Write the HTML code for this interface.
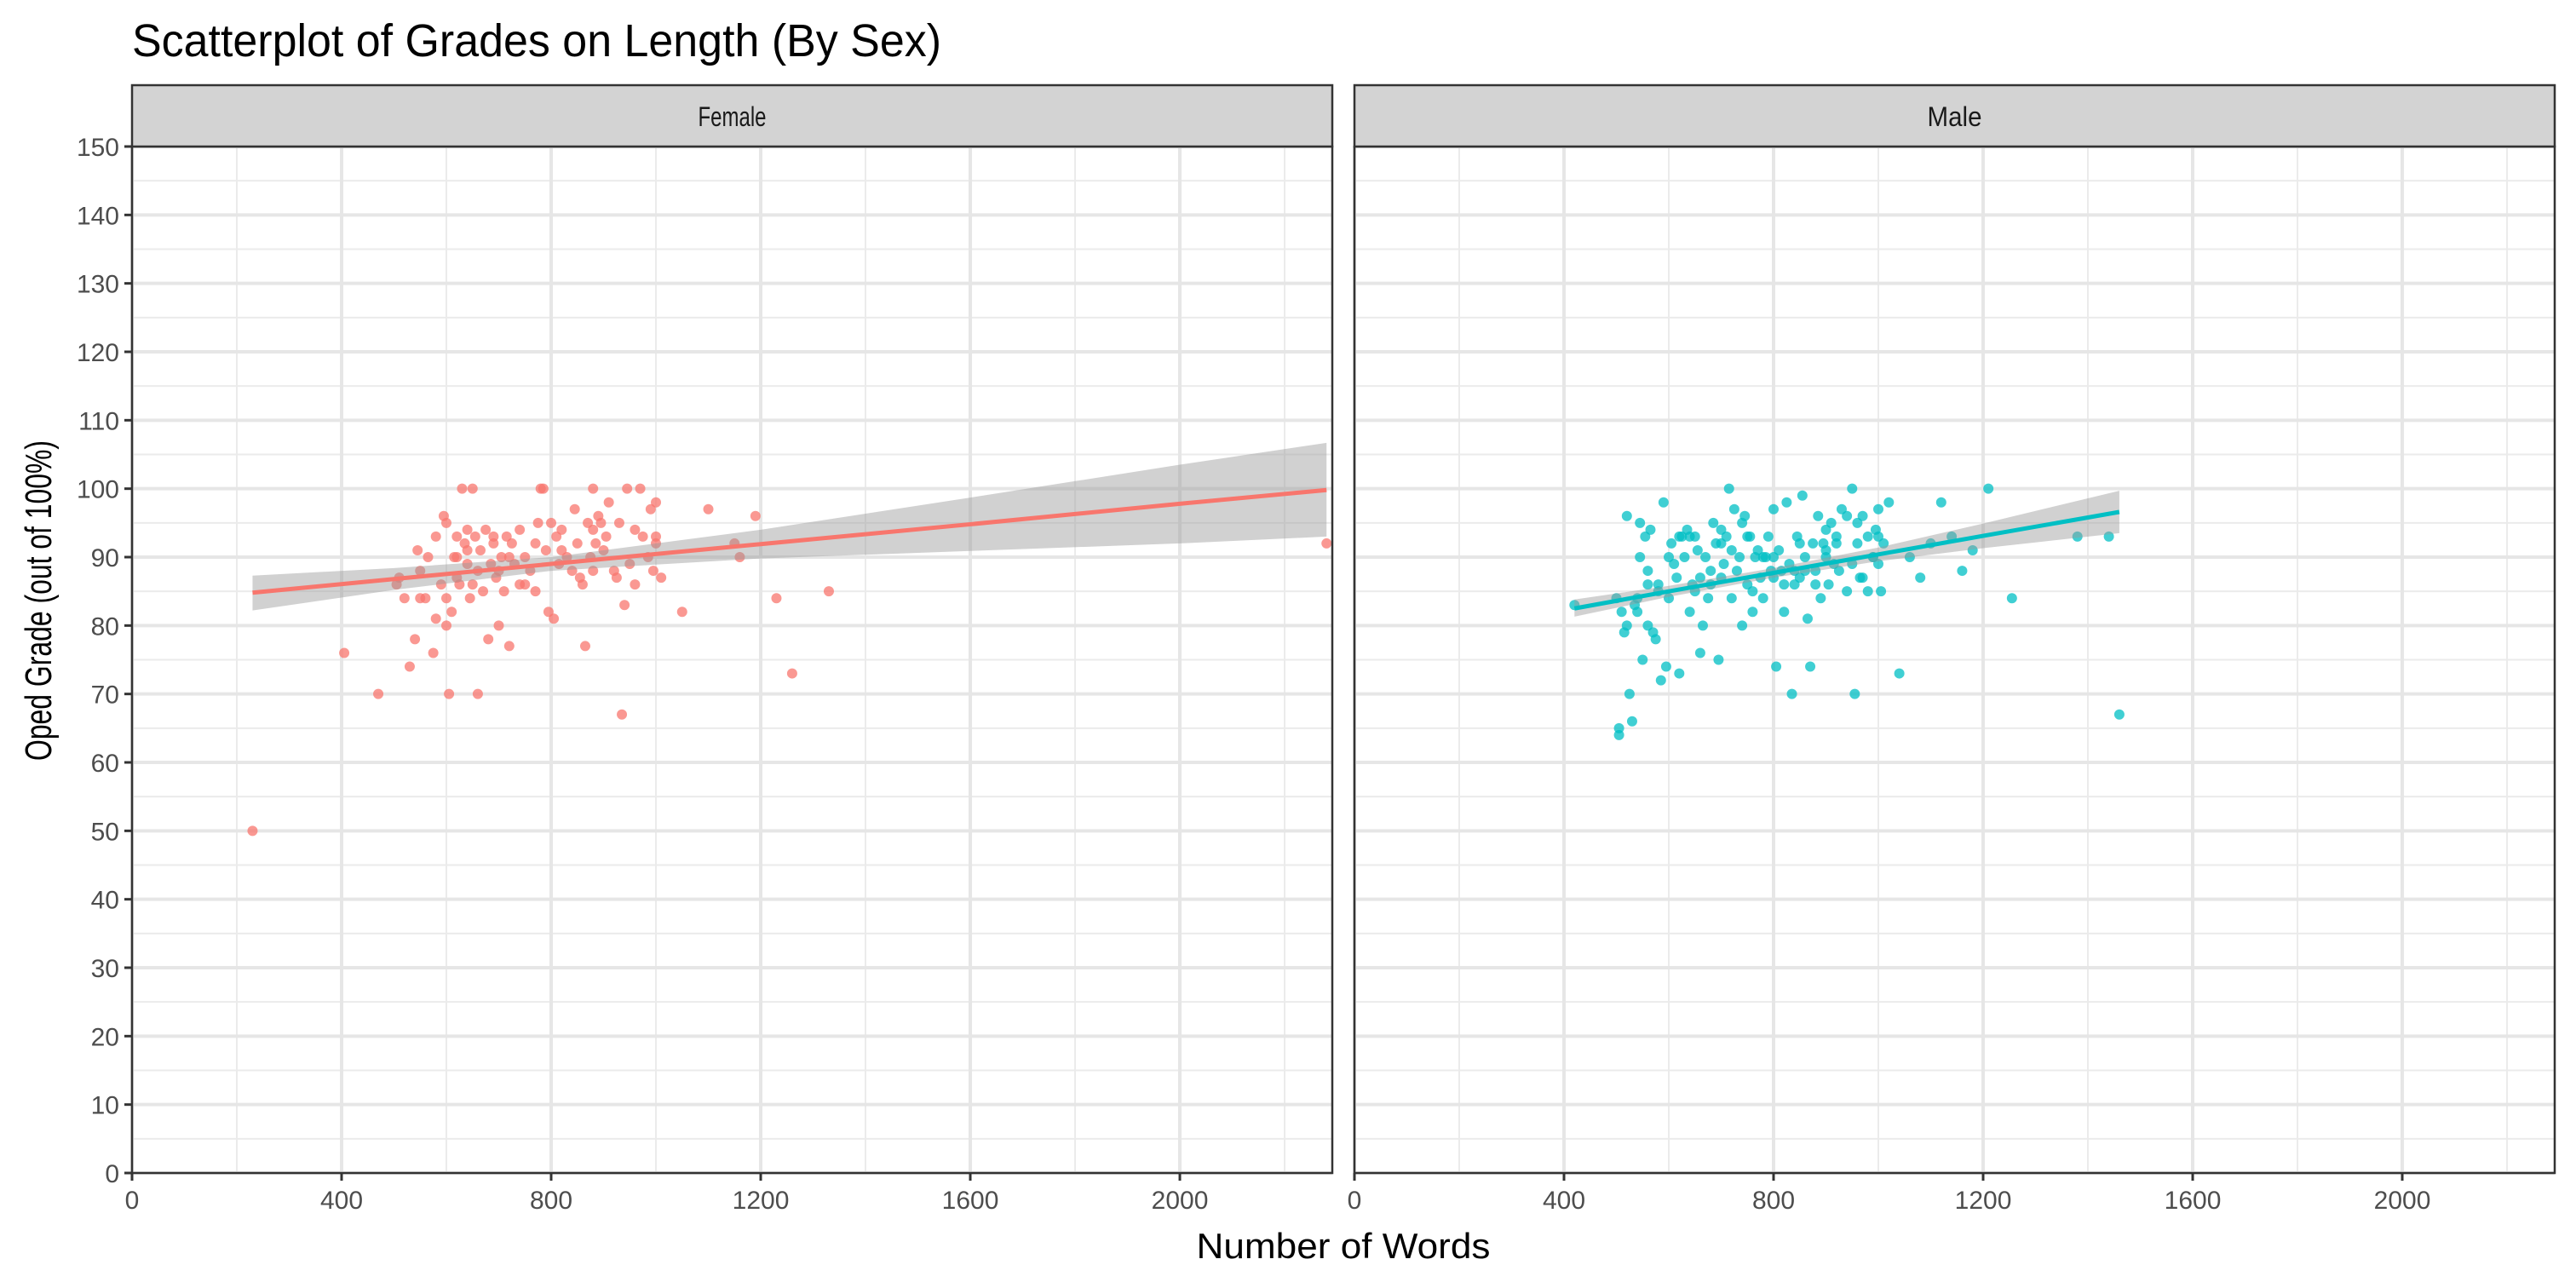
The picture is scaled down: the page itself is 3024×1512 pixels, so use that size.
<!DOCTYPE html>
<html><head><meta charset="utf-8"><style>
html,body{margin:0;padding:0;background:#fff}
svg{display:block}
text{font-family:"Liberation Sans Narrow","Liberation Sans",sans-serif}
</style></head><body>
<svg id="chart" width="3024" height="1512" viewBox="0 0 3024 1512" xmlns="http://www.w3.org/2000/svg">
<text x="155" y="66" font-size="54" fill="#000" textLength="950" lengthAdjust="spacingAndGlyphs">Scatterplot of Grades on Length (By Sex)</text>
<text x="1577" y="1477" font-size="42" text-anchor="middle" fill="#000" textLength="345" lengthAdjust="spacingAndGlyphs">Number of Words</text>
<text transform="translate(60,705) rotate(-90)" font-size="44" text-anchor="middle" fill="#000" textLength="376" lengthAdjust="spacingAndGlyphs">Oped Grade (out of 100%)</text>
<g id="layer"></g>
</svg>
<script>
const panelNames = ["Female", "Male"];
const xTicks = [0, 400, 800, 1200, 1600, 2000];
const yTicks = [0,10,20,30,40,50,60,70,80,90,100,110,120,130,140,150];
const femaleWords = [230,405,470,2280,505,510,520,530,540,545,550,560,565,575,580,590,595,600,600,605,610,615,620,620,625,630,635,640,645,650,655,660,660,665,670,675,680,685,690,695,700,705,710,715,720,725,730,740,750,760,770,775,780,785,790,795,800,805,810,815,820,830,840,845,850,855,860,865,870,875,880,885,890,895,900,905,910,920,925,930,935,940,945,950,960,970,975,985,990,995,1000,1010,1050,1100,1160,1190,1230,1260,1330,550,600,620,650,700,750,880,960,1000,1150,1000,880,820,770,740,690,640,580,640,720];
const femaleGrades = [50,76,70,92,86,87,84,74,78,91,88,84,90,76,93,86,96,95,80,70,82,90,93,87,86,100,92,94,84,100,93,70,88,91,85,94,78,89,92,87,80,90,85,93,77,92,89,94,86,88,92,95,100,100,91,82,95,81,93,89,94,90,88,97,92,87,86,77,95,90,100,92,96,95,91,93,98,88,87,95,67,83,100,89,94,100,93,90,97,88,92,87,82,97,90,96,84,73,85,84,84,90,86,88,90,88,86,98,92,93,94,91,85,86,93,89,81,91,90];
const maleWords = [420,500,505,505,510,515,520,525,530,535,540,545,545,550,555,560,560,565,570,575,580,585,590,595,600,605,610,615,620,625,630,635,640,645,650,655,660,665,670,675,680,685,690,695,700,705,710,715,720,725,730,735,740,745,750,755,760,765,770,775,780,785,790,795,800,805,810,815,820,825,830,835,840,845,850,855,860,865,870,875,880,885,890,895,900,905,910,915,920,925,930,940,950,955,960,965,970,980,990,995,1000,1005,1010,1020,1040,1060,1080,1100,1120,1140,1160,1180,1210,1255,1380,1440,1460,560,600,640,680,720,760,800,840,880,920,960,1000,580,620,660,700,740,780,820,860,900,940,980,650,750,850,950,700,800,900,1000,990,970,520,540];
const maleGrades = [83,84,65,64,82,79,80,70,66,83,84,90,95,75,93,80,86,94,79,78,85,72,98,74,84,92,89,87,73,93,90,94,82,86,93,91,76,80,90,84,86,95,92,75,87,89,93,100,84,97,88,90,80,96,86,93,82,90,91,87,84,90,93,88,97,74,91,88,82,98,89,70,86,93,87,99,90,81,74,92,88,96,84,92,90,86,95,89,93,88,97,85,100,70,92,87,96,85,90,94,97,85,92,98,73,90,87,92,98,93,88,91,100,84,93,93,67,88,90,93,88,91,85,90,88,86,92,95,89,86,93,87,92,95,90,86,88,94,96,93,85,93,92,89,94,87,91,93,90,87,96,82,81];
const femaleFitX = [230,500,800,1200,1600,2000,2280];
const femaleFit = [84.8,86.8,89.0,91.9,94.8,97.8,99.8];
const femaleLo = [82.2,85.2,88.0,89.8,90.9,92.0,93.0];
const femaleHi = [87.3,88.4,90.0,94.0,98.7,103.5,106.7];
const maleFitX = [420,600,800,1000,1200,1460];
const maleFit = [82.5,85.0,87.7,90.4,93.1,96.6];
const maleLo = [81.3,84.2,87.0,89.4,91.3,93.5];
const maleHi = [83.8,85.8,88.4,91.4,94.9,99.7];

const NS = "http://www.w3.org/2000/svg";
const layer = document.getElementById("layer");
const PT = 172, PB = 1377, PW = 1409;
const lefts = [155, 1590];
const stripLen = [80, 64];
const XMAX = 2291;
function xs(p, v){ return lefts[p] + v / XMAX * PW; }
function ys(v){ return PB - v / 150 * (PB - PT); }
function mk(tag, attrs, parent){ const e = document.createElementNS(NS, tag); for (const k in attrs) e.setAttribute(k, attrs[k]); (parent||layer).appendChild(e); return e; }

const series = [
  {w: femaleWords, g: femaleGrades, fx: femaleFitX, f: femaleFit, lo: femaleLo, hi: femaleHi, col: "#F8766D"},
  {w: maleWords, g: maleGrades, fx: maleFitX, f: maleFit, lo: maleLo, hi: maleHi, col: "#00BFC4"}
];

for (let p = 0; p < 2; p++) {
  const L = lefts[p];
  const g = mk("g", {});
  
  
  for (let v = 5; v < 150; v += 10) { const l = mk("line", {x1:L, x2:L+PW, y1:ys(v), y2:ys(v), stroke:"#ebebeb", "stroke-width":2}, g);
    
     }
  for (let v = 200; v < XMAX; v += 400) { const l = mk("line", {x1:xs(p,v), x2:xs(p,v), y1:PT, y2:PB, stroke:"#ebebeb", "stroke-width":2}, g);
    
     }
  yTicks.forEach(v => { const l = mk("line", {x1:L, x2:L+PW, y1:ys(v), y2:ys(v), stroke:"#e6e6e6", "stroke-width":4}, g);
    
     });
  xTicks.forEach(v => { const l = mk("line", {x1:xs(p,v), x2:xs(p,v), y1:PT, y2:PB, stroke:"#e6e6e6", "stroke-width":4}, g);
    
     });
  const s = series[p];
  for (let i = 0; i < s.w.length; i++) {
    const c = mk("circle", {cx:xs(p,s.w[i]), cy:ys(s.g[i]), r:6, fill:s.col, "fill-opacity":0.75}, g);
    
    
  }
  let d = "";
  for (let i = 0; i < s.fx.length; i++) d += (i ? "L" : "M") + xs(p,s.fx[i]) + "," + ys(s.hi[i]);
  for (let i = s.fx.length - 1; i >= 0; i--) d += "L" + xs(p,s.fx[i]) + "," + ys(s.lo[i]);
  const band = mk("path", {d: d + "Z", fill:"#999", "fill-opacity":0.45}, g);
  
  
  const fl = mk("polyline", {points: s.fx.map((x,i) => xs(p,x) + "," + ys(s.f[i])).join(" "), fill:"none", stroke:s.col, "stroke-width":5}, g);
  
  
  const br = mk("rect", {x:L, y:PT, width:PW, height:PB-PT, fill:"none", stroke:"#333", "stroke-width":2.5}, g);
  
  
  const st = mk("rect", {x:L, y:100, width:PW, height:PT-100, fill:"#d3d3d3", stroke:"#333", "stroke-width":2.5}, g);
  
  
  const stt = mk("text", {x:L+PW/2, y:148, "font-size":32, "text-anchor":"middle", fill:"#1a1a1a", textLength:stripLen[p], lengthAdjust:"spacingAndGlyphs"}, g);
  stt.textContent = panelNames[p];
  
  
  xTicks.forEach(v => {
    const t = mk("line", {x1:xs(p,v), x2:xs(p,v), y1:PB, y2:PB+9, stroke:"#333", "stroke-width":3}, g);
    
    
    const tx = mk("text", {x:xs(p,v), y:PB+42, "font-size":30, "text-anchor":"middle", fill:"#4d4d4d"}, g);
    tx.textContent = v;
    
    
  });
}
yTicks.forEach(v => {
  const t = mk("line", {x1:146, x2:155, y1:ys(v), y2:ys(v), stroke:"#333", "stroke-width":3});
  
  
  const tx = mk("text", {x:140, y:ys(v)+11, "font-size":30, "text-anchor":"end", fill:"#4d4d4d"});
  tx.textContent = v;
  
  
});
</script>
</body></html>
